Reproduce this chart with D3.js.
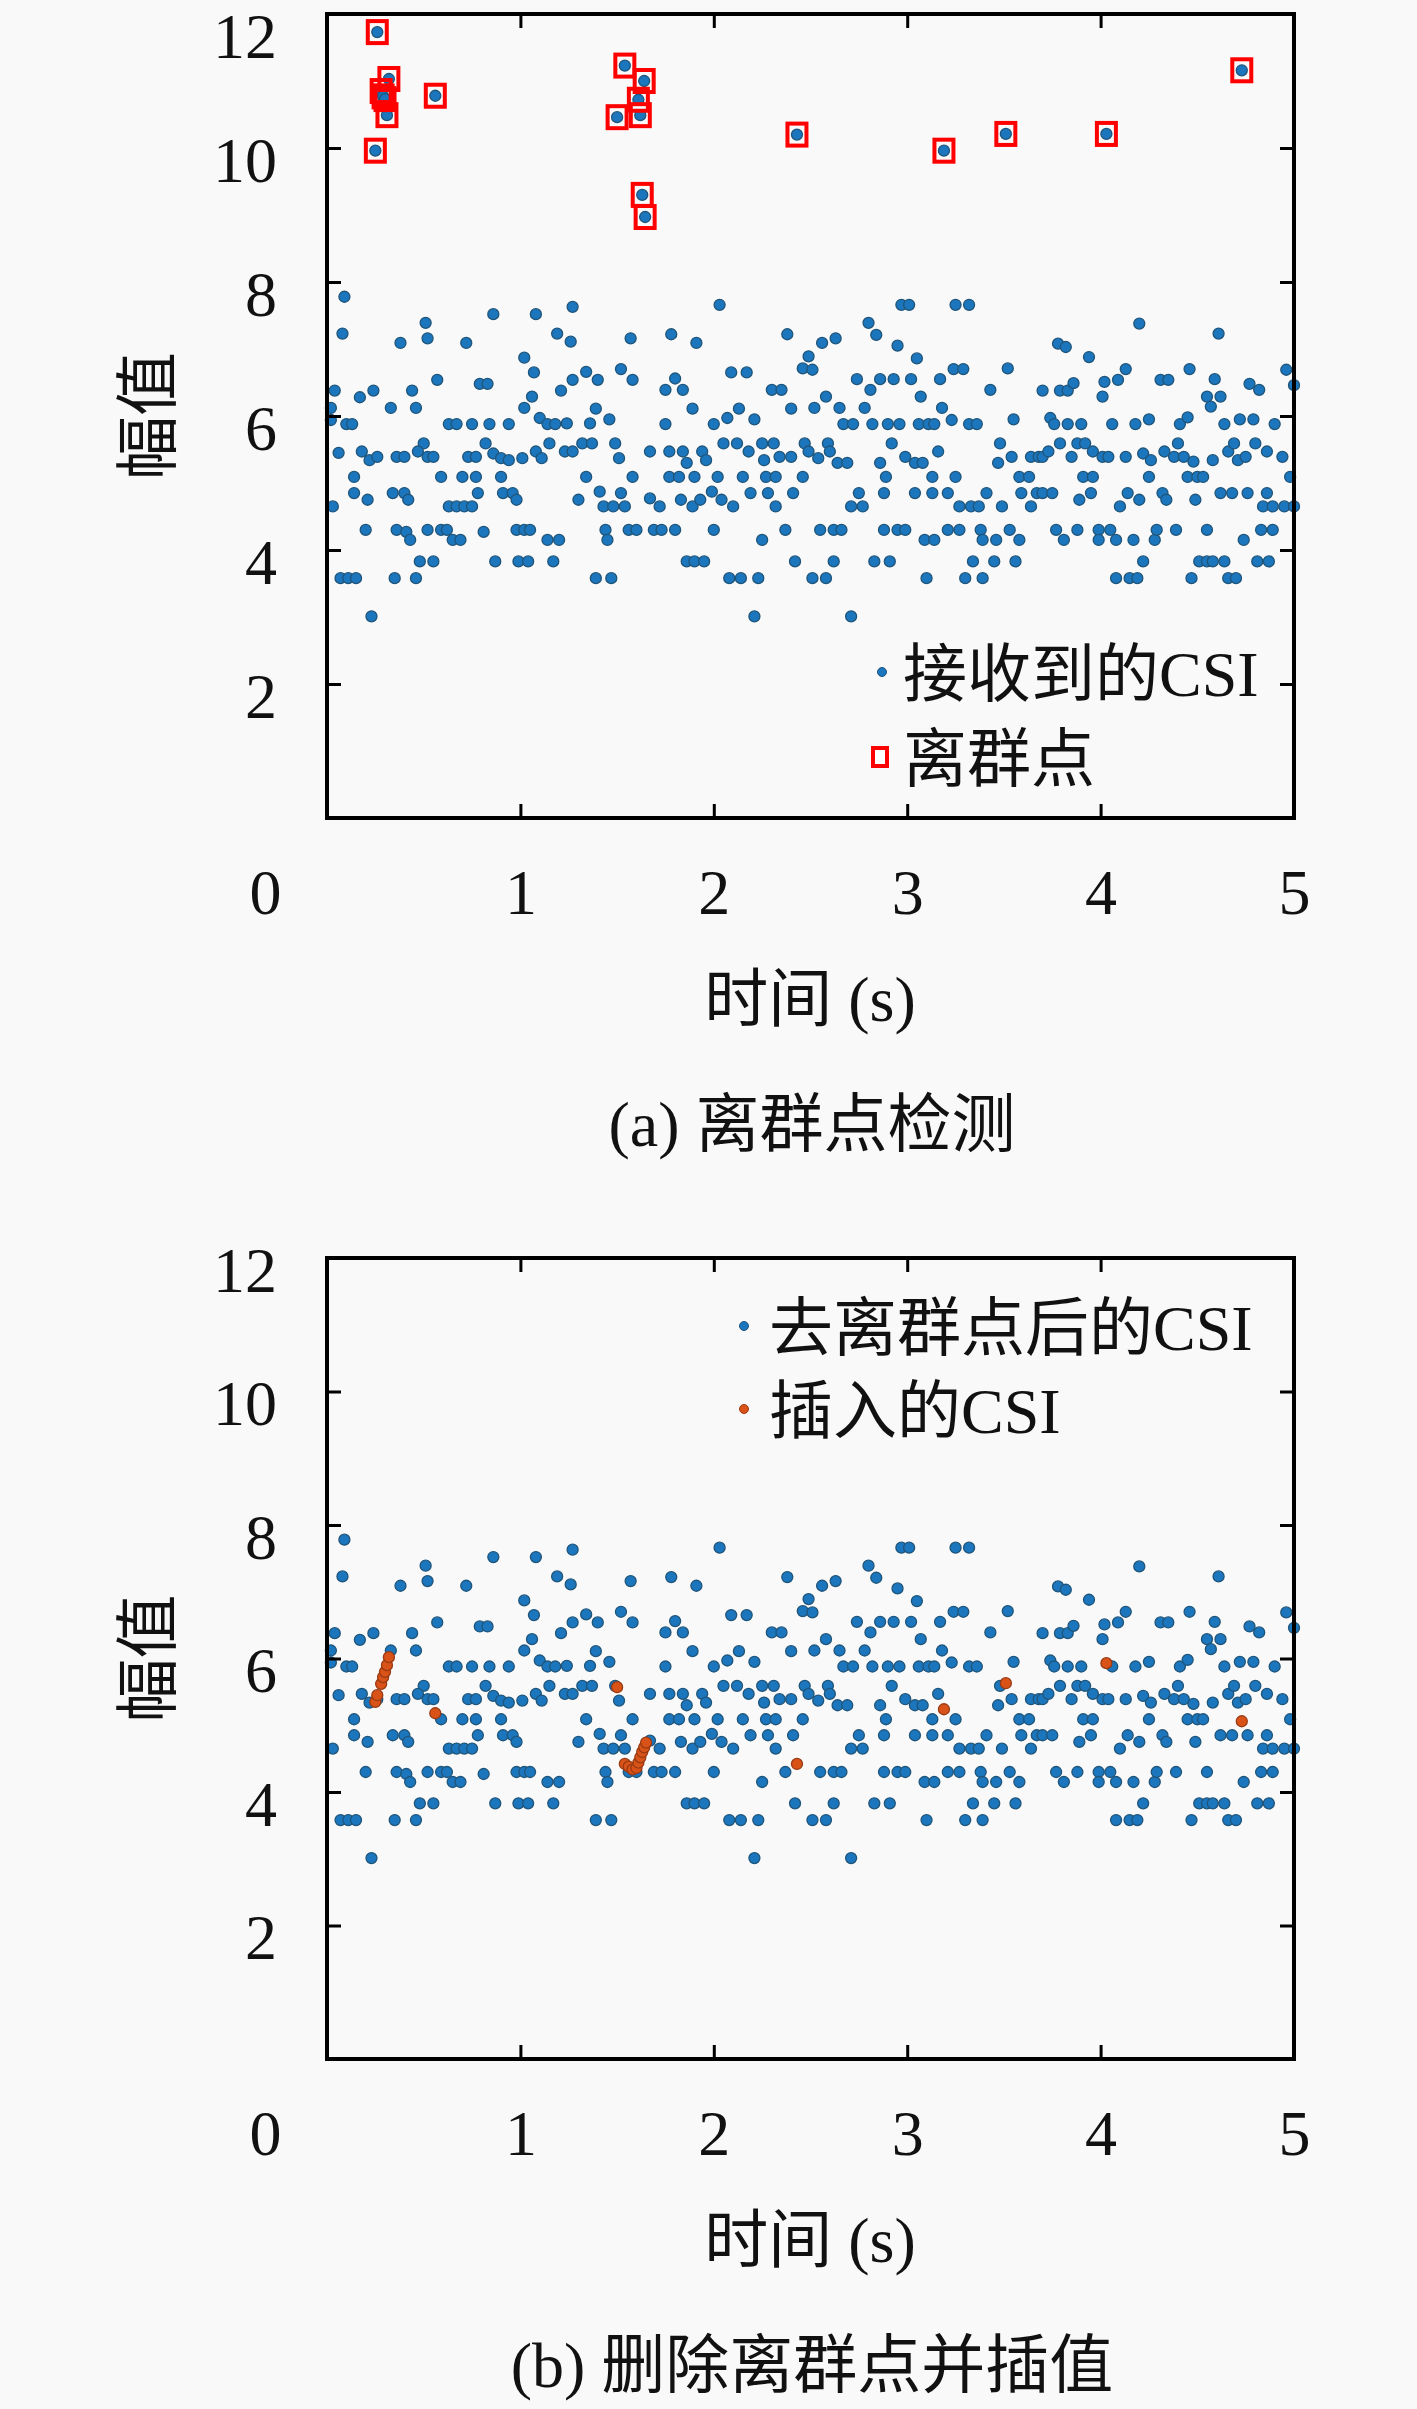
<html>
<head>
<meta charset="utf-8">
<script src="https://d3js.org/d3.v7.min.js"></script>
<style>
  body { margin: 0; background: #f9f9f9; }
  text { font-family: "Liberation Serif", "Noto Sans CJK SC", serif; fill: #111; }
</style>
</head>
<body>
<svg width="1417" height="2409"></svg>
<script>
// received CSI samples (time s, amplitude), outliers excluded
var csiTime = [
 0.09,0.86,1.08,0.51,0.08,0.38,0.52,0.72,1.19,1.02,1.07,0.57,0.79,0.83,0.04,0.17,0.24,0.44,1.06,1.21,
 0.33,0.46,1.02,0.02,0.02,0.10,0.13,0.63,0.67,0.75,0.84,0.94,1.10,1.14,1.18,0.50,0.82,1.15,0.06,0.18,
 0.22,0.26,0.36,0.40,0.47,0.52,0.55,0.73,0.77,0.86,0.90,0.94,1.01,1.08,1.11,0.14,0.59,0.70,0.77,0.90,
 0.14,0.21,0.34,0.40,0.42,0.78,0.91,0.96,0.98,0.03,0.63,0.67,0.71,0.75,0.20,0.36,0.41,0.43,0.52,0.59,
 0.62,0.65,0.69,0.81,0.98,1.02,1.05,1.14,1.20,0.48,0.55,0.87,0.99,1.04,1.17,0.07,0.11,0.15,0.35,0.46,0.23,
 1.27,2.03,1.26,1.57,1.78,1.91,2.38,1.34,1.27,1.40,1.52,1.58,1.80,1.84,1.75,2.09,2.17,2.30,2.35,1.39,
 1.24,1.36,1.46,1.75,1.89,2.00,2.07,2.13,2.21,2.40,1.23,1.27,1.32,1.37,1.49,1.51,1.67,1.77,1.84,1.86,
 1.94,1.96,2.05,2.12,2.18,2.25,2.26,2.31,2.34,2.40,1.34,1.58,1.77,1.82,1.90,2.02,2.15,2.27,2.32,1.30,
 1.41,1.43,1.48,1.52,1.54,1.67,1.72,1.83,1.89,1.93,1.99,2.04,2.10,2.19,2.28,2.32,2.41,1.44,1.45,1.56,
 1.60,1.69,1.73,1.80,2.00,2.25,2.37,1.86,1.90,1.95,2.42,1.39,1.47,2.08,2.14,2.23,2.21,
 2.97,3.01,3.25,3.32,2.80,2.84,2.56,2.63,2.95,3.05,2.49,2.46,2.51,2.74,2.86,2.93,3.02,2.81,3.17,3.24,
 3.29,3.43,3.52,2.58,3.07,2.52,2.65,2.78,2.67,2.72,2.82,2.90,2.96,3.06,3.11,3.14,3.18,3.23,3.32,3.36,
 3.55,2.47,2.49,2.54,2.59,2.60,2.64,2.69,2.92,2.86,2.99,3.04,3.08,3.16,3.48,3.47,3.54,3.64,3.68,2.46,
 2.89,3.13,3.25,3.58,3.63,2.75,2.71,2.77,2.88,3.04,3.13,3.21,3.27,3.33,3.37,3.41,3.49,3.59,3.64,3.67,
 2.55,2.62,2.66,2.88,2.95,2.99,3.09,3.14,3.21,3.27,3.38,3.39,3.46,3.53,3.58,2.62,2.83,2.91,3.34,3.45,
 3.56,2.51,2.58,3.10,3.30,3.39,2.71,
 4.20,4.61,3.78,3.82,3.94,4.13,4.09,4.02,4.01,4.31,4.35,4.46,4.59,4.55,4.62,4.57,4.77,4.82,4.96,5.00,
 3.70,3.79,3.83,3.86,3.74,3.76,3.83,3.90,4.06,4.18,4.25,4.41,4.45,4.64,4.72,4.79,4.90,3.70,3.73,3.79,
 3.85,3.88,3.92,3.96,4.01,4.04,4.13,4.22,4.26,4.33,4.38,4.40,4.43,4.48,4.58,4.66,4.69,4.71,4.75,4.80,
 4.86,4.94,3.91,3.96,4.25,4.45,4.50,4.53,4.98,3.70,3.75,3.89,3.95,4.10,4.14,4.20,4.32,4.34,4.49,4.62,
 4.68,4.76,4.86,4.84,4.89,4.95,5.00,3.77,3.81,3.88,3.99,3.99,4.05,4.08,4.17,4.28,4.29,4.39,4.55,4.74,
 4.83,4.89,4.22,4.51,4.55,4.58,4.64,4.81,4.87,4.08,4.15,4.19,4.47,4.66,4.70
];
var csiAmp = [
 7.78,7.52,7.52,7.39,7.23,7.09,7.16,7.09,7.23,6.87,6.65,6.54,6.48,6.48,6.38,6.28,6.38,6.38,6.29,6.38,
 6.12,6.12,6.12,6.12,5.94,5.88,5.88,5.88,5.88,5.88,5.88,5.88,5.97,5.88,5.88,5.59,5.59,5.59,5.45,5.47,
 5.34,5.39,5.39,5.39,5.47,5.39,5.39,5.39,5.39,5.44,5.37,5.34,5.37,5.47,5.37,5.09,5.09,5.09,5.09,5.09,
 4.85,4.75,4.85,4.85,4.75,4.85,4.85,4.85,4.75,4.65,4.65,4.65,4.65,4.65,4.30,4.30,4.27,4.15,4.30,4.30,
 4.30,4.15,4.15,4.27,4.30,4.30,4.30,4.15,4.15,3.83,3.83,3.83,3.83,3.83,3.83,3.58,3.58,3.58,3.58,3.58,3.01,
 7.63,7.66,7.11,7.16,7.22,7.09,7.22,6.66,6.54,6.54,6.70,6.54,6.56,6.39,6.39,6.65,6.65,6.39,6.39,6.11,
 5.89,5.89,5.95,5.88,6.11,5.88,5.97,6.11,5.95,6.11,5.47,5.47,5.59,5.59,5.59,5.37,5.47,5.47,5.47,5.30,
 5.47,5.34,5.59,5.59,5.47,5.59,5.34,5.59,5.39,5.39,5.09,5.09,5.09,5.09,5.09,5.09,5.09,5.09,5.09,4.75,
 4.87,4.65,4.65,4.85,4.65,4.77,4.65,4.75,4.65,4.75,4.87,4.75,4.65,4.85,4.85,4.65,4.85,4.30,4.15,4.30,
 4.30,4.30,4.30,4.30,4.30,4.15,4.30,3.83,3.83,3.83,3.83,3.58,3.58,3.58,3.58,3.58,3.01,
 7.66,7.66,7.66,7.66,7.39,7.21,7.09,7.16,7.05,6.86,6.89,6.71,6.69,6.55,6.55,6.55,6.55,6.39,6.55,6.70,
 6.70,6.39,6.71,6.29,6.29,6.12,6.12,6.12,5.88,5.88,5.88,5.88,5.88,5.88,5.88,5.88,6.12,5.94,5.88,5.88,
 5.95,5.59,5.47,5.37,5.59,5.47,5.30,5.30,5.59,5.30,5.39,5.30,5.30,5.47,5.59,5.30,5.39,5.39,5.39,5.09,
 5.09,5.09,5.09,5.09,5.09,4.85,4.65,4.65,4.85,4.85,4.85,4.85,4.65,4.65,4.65,4.85,4.65,4.85,4.65,4.85,
 4.30,4.30,4.30,4.30,4.30,4.30,4.15,4.15,4.30,4.30,4.30,4.15,4.15,4.30,4.15,3.83,3.83,3.83,3.83,3.83,
 3.83,3.58,3.58,3.58,3.58,3.58,3.01,
 7.38,7.23,7.08,7.03,6.88,6.70,6.54,6.51,6.29,6.54,6.54,6.70,6.55,6.29,6.29,6.14,6.48,6.39,6.69,6.46,
 6.38,6.38,6.38,6.49,5.97,5.88,5.88,5.88,5.88,5.88,5.95,5.88,5.98,5.88,5.95,5.95,5.88,5.39,5.47,5.59,
 5.39,5.59,5.59,5.47,5.39,5.39,5.39,5.44,5.34,5.47,5.39,5.59,5.39,5.32,5.34,5.47,5.59,5.34,5.39,5.59,
 5.47,5.39,5.09,5.09,5.09,5.09,5.09,5.09,5.09,4.85,4.85,4.75,4.85,4.65,4.85,4.75,4.85,4.75,4.75,4.85,
 4.85,4.85,4.85,4.65,4.65,4.65,4.65,4.30,4.15,4.30,4.30,4.15,4.30,4.15,4.15,4.15,4.30,4.30,4.30,4.15,
 4.30,4.30,3.83,3.83,3.83,3.83,3.83,3.83,3.83,3.58,3.58,3.58,3.58,3.58,3.58
];

// detected outliers
var outTime = [0.25,0.26,0.28,0.29,0.30,0.31,0.32,0.56,1.50,1.54,1.61,1.62,1.63,1.64,1.645,2.43,3.19,3.51,4.03,4.73];
var outAmp  = [9.96,11.73,10.85,10.77,10.73,10.49,11.03,10.78,10.46,11.23,10.72,10.49,9.30,11.00,8.97,10.20,9.96,10.21,10.21,11.16];

// interpolated values replacing the outliers
var fillTime = [0.25,0.26,0.28,0.29,0.30,0.31,0.32,0.56,1.50,1.54,1.56,1.58,1.60,1.61,1.62,1.63,1.64,1.65,2.43,3.19,3.51,4.03,4.73];
var fillAmp  = [5.35,5.45,5.62,5.72,5.80,5.90,6.02,5.18,5.57,4.42,4.38,4.34,4.36,4.44,4.52,4.60,4.67,4.74,4.42,5.24,5.63,5.93,5.06];

var xTicks = [0, 1, 2, 3, 4, 5];
var yTicks = [2, 4, 6, 8, 10, 12];

var BLUE = "#1b76bd", BLUE_EDGE = "#20557a", ORANGE = "#d95319", RED = "#ff0000";
var FS = 64;

var svg = d3.select("svg");
var x = d3.scaleLinear().domain([0, 5]).range([327, 1294]);

function pairs(t, v) { return t.map(function (d, i) { return [d, v[i]]; }); }

function panel(top, bottom, caption, legend, layers) {
  var y = d3.scaleLinear().domain([0, 12]).range([bottom, top]);
  var g = svg.append("g");

  layers.forEach(function (L) {
    var pts = pairs(L.t, L.v);
    g.append("g").selectAll("circle").data(pts).enter().append("circle")
      .attr("cx", function (d) { return x(d[0]); })
      .attr("cy", function (d) { return y(d[1]); })
      .attr("r", 5.5)
      .attr("fill", L.color)
      .attr("stroke", L.edge)
      .attr("stroke-width", 1.3);
    if (L.box) {
      g.append("g").selectAll("rect").data(pts).enter().append("rect")
        .attr("x", function (d) { return x(d[0]) - 9.5; })
        .attr("y", function (d) { return y(d[1]) - 11; })
        .attr("width", 19).attr("height", 22)
        .attr("fill", "none").attr("stroke", RED).attr("stroke-width", 4);
    }
  });

  // axes with inward ticks
  var ax = d3.axisBottom(x).tickValues(xTicks).tickFormat(d3.format("d"))
    .tickSizeInner(-14).tickSizeOuter(0).tickPadding(51);
  var gx = g.append("g").attr("transform", "translate(0," + bottom + ")").call(ax);
  gx.selectAll("text").attr("dy", "0.71em").style("font-size", FS + "px")
    .attr("x", function (d) { return d === 0 ? -62 : 0; });
  g.append("g").attr("transform", "translate(0," + top + ")")
    .call(d3.axisTop(x).tickValues(xTicks).tickFormat("").tickSizeInner(-14).tickSizeOuter(0));

  var ay = d3.axisLeft(y).tickValues(yTicks).tickFormat(d3.format("d"))
    .tickSizeInner(-14).tickSizeOuter(0).tickPadding(50);
  var gy = g.append("g").attr("transform", "translate(327,0)").call(ay);
  gy.selectAll("text").style("font-size", FS + "px")
    .attr("y", function (d) { return Math.max(13, 57 - 0.32 * FS - y(d)); });
  g.append("g").attr("transform", "translate(1294,0)")
    .call(d3.axisRight(y).tickValues(yTicks).tickFormat("").tickSizeInner(-14).tickSizeOuter(0));

  g.selectAll(".tick line").attr("stroke", "#000").attr("stroke-width", 3);
  g.selectAll(".domain").attr("stroke", "none");
  g.selectAll(".tick text").attr("fill", "#111").style("font-family", "Liberation Serif");

  g.append("rect").attr("x", 327).attr("y", top).attr("width", 1294 - 327).attr("height", bottom - top)
    .attr("fill", "none").attr("stroke", "#000").attr("stroke-width", 4);

  // legend
  legend.forEach(function (L) {
    var ly = L.y;
    if (L.box) {
      g.append("rect").attr("x", L.mx - 7).attr("y", ly - 9).attr("width", 14).attr("height", 18)
        .attr("fill", "#fff").attr("stroke", RED).attr("stroke-width", 4);
    } else {
      g.append("circle").attr("cx", L.mx).attr("cy", ly).attr("r", 4.5)
        .attr("fill", L.color).attr("stroke", L.edge).attr("stroke-width", 1);
    }
    g.append("text").attr("x", L.tx).attr("y", ly + 24).style("font-size", FS + "px").text(L.label);
  });

  // labels
  g.append("text").attr("transform", "translate(170," + ((top + bottom) / 2) + ") rotate(-90)")
    .attr("text-anchor", "middle").style("font-size", FS + "px").text("幅值");
  g.append("text").attr("x", 810).attr("y", bottom + 203).attr("text-anchor", "middle")
    .style("font-size", FS + "px").text("时间 (s)");
  g.append("text").attr("x", 812).attr("y", bottom + 328).attr("text-anchor", "middle")
    .style("font-size", FS + "px").text(caption);
}

panel(14, 818, "(a) 离群点检测",
  [{ label: "接收到的CSI", mx: 882, tx: 903, y: 672, color: BLUE, edge: BLUE_EDGE },
   { label: "离群点", mx: 880, tx: 903, y: 757, box: true }],
  [{ t: csiTime, v: csiAmp, color: BLUE, edge: BLUE_EDGE },
   { t: outTime, v: outAmp, color: BLUE, edge: BLUE_EDGE, box: true }]);

panel(1258, 2059, "(b) 删除离群点并插值",
  [{ label: "去离群点后的CSI", mx: 744, tx: 769, y: 1326, color: BLUE, edge: BLUE_EDGE },
   { label: "插入的CSI", mx: 744, tx: 769, y: 1409, color: ORANGE, edge: "#9a3a12" }],
  [{ t: csiTime, v: csiAmp, color: BLUE, edge: BLUE_EDGE },
   { t: fillTime, v: fillAmp, color: ORANGE, edge: "#9a3a12" }]);
</script>
</body>
</html>
